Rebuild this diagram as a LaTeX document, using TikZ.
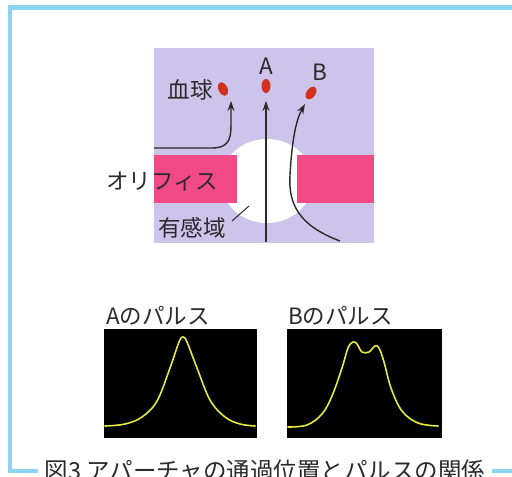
\documentclass[tikz,border=0pt]{standalone}
\usepackage{fontspec}
\setmainfont{Noto Sans CJK JP}
\usetikzlibrary{arrows.meta,shapes.geometric}
\definecolor{frameblue}{HTML}{8DD3F2}
\definecolor{lav}{HTML}{CCC4EA}
\definecolor{orifice}{HTML}{F24A86}
\definecolor{cellred}{HTML}{D0321E}
\definecolor{trace}{HTML}{E6E83C}
\definecolor{ink}{HTML}{2A2A2A}
\tikzset{
  frameline/.style={frameblue, line width=4.5pt},
  label/.style={text=ink, inner sep=0pt, font=\fontsize{22.5}{22.5}\selectfont},
  cell/.style={ellipse, fill=cellred, draw=none, minimum width=9pt, minimum height=14pt, inner sep=0pt},
  flow/.style={ink, line width=1.4pt, -{Stealth[length=10pt,width=7pt]}},
  scope box/.style={fill=black, draw=none},
  pulse/.style={trace, line width=1.6pt, line join=round, line cap=round}
}
\begin{document}
\begin{tikzpicture}[x=1pt,y=-1pt]
\useasboundingbox (0,0) rectangle (512,477);
\fill[white] (0,0) rectangle (512,477);

% frame
\draw[frameline] (512,7.5) -- (10,7.5) -- (10,471) -- (38,471);
\draw[frameline] (492,471) -- (512,471);

% aperture panel
\fill[lav] (154,48) rectangle (374,243);
\node[ellipse, fill=white, minimum width=92pt, minimum height=84pt, inner sep=0pt] (zone) at (267,181) {};
\fill[orifice] (154,155) rectangle (237,203);
\fill[orifice] (297,155) rectangle (374,203);

% cells
\node[cell, rotate=25] (c0) at (223,89) {};
\node[cell] (cA) at (266,86) {};
\node[cell, rotate=-35] (cB) at (311,93) {};
\coordinate (t0) at (231,101);
\coordinate (tA) at (266,101);
\coordinate (tB) at (305,104);
\coordinate (s0) at (154,148);
\coordinate (sA) at (266,242);
\coordinate (sB) at (340,241);

\draw[flow] (s0) -- (212,148) .. controls (228,148) and (231,140) .. (231,125) -- (t0);
\draw[flow] (sA) -- (tA);
\draw[flow] (sB) .. controls (300,226) and (288,205) .. (290,175)
               .. controls (292,140) and (296,120) .. (tB);

% labels
\node[label] (lblCell) at (190,90) {血球};
\node[label] (lblA) at (266,66) {A};
\node[label] (lblB) at (320,72) {B};
\node[label, anchor=west] (lblOri) at (106,182) {オリフィス};
\node[label, anchor=west] (lblZone) at (158,228) {有感域};
\coordinate (zp) at (249,206);
\coordinate (zq) at (232,221);
\draw[ink, line width=1pt] (zq) -- (zp);

% pulse displays
\node[label, anchor=west] (pa) at (106,316) {Aのパルス};
\node[label, anchor=west] (pb) at (288,316) {Bのパルス};
\node[scope box, minimum width=153pt, minimum height=109pt, inner sep=0pt] (boxA) at (180.5,383.5) {};
\node[scope box, minimum width=155pt, minimum height=109pt, inner sep=0pt] (boxB) at (364.5,383.5) {};

\draw[pulse] plot[smooth, tension=0.6] coordinates {
  (105,426) (125,424) (142,417) (157,401) (170,368) (179,342) (183,337)
  (187,342) (197,368) (210,400) (225,417) (240,424) (255,426)};
\draw[pulse] plot[smooth, tension=0.6] coordinates {
  (288,427) (307,425) (322,414) (332,396) (342,368) (348,348) (353,342)
  (357,344) (362,352) (369,352) (375,346) (379,348) (384,362) (391,388)
  (402,411) (418,423) (438,426)};

% caption
\node[label, font=\fontsize{23.5}{23.5}\selectfont] (cap) at (265,471) {図3 アパーチャの通過位置とパルスの関係};
\end{tikzpicture}
\end{document}
